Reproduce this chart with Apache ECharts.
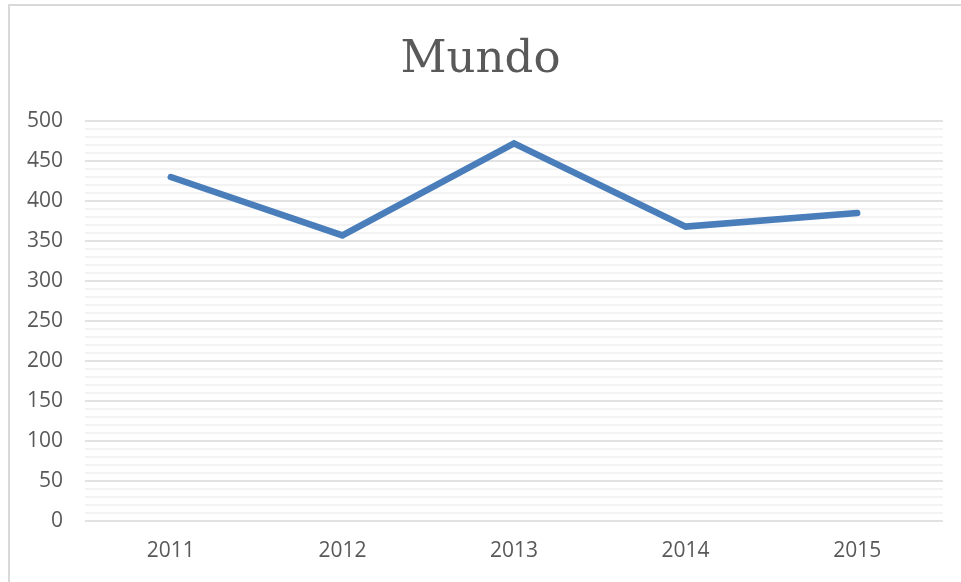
<!DOCTYPE html>
<html>
<head>
<meta charset="utf-8">
<script src="https://cdn.jsdelivr.net/npm/echarts@6/dist/echarts.min.js"></script>
<style>
  html, body { margin: 0; padding: 0; background: #fff; }
  #chart { width: 961px; height: 582px; }
</style>
</head>
<body>
<div id="chart"></div>
<script>
// data
var years = ['2011', '2012', '2013', '2014', '2015'];
var mundo = [430, 357, 472, 368, 385];

var chart = echarts.init(document.getElementById('chart'));

var option = {
    animation: false,
    backgroundColor: '#fff',
    graphic: [{
        type: 'rect',
        shape: { x: 9, y: 5, width: 1000, height: 1000 },
        style: { fill: 'none', stroke: '#d9d9d9', lineWidth: 2 },
        silent: true
    }],
    title: {
        text: 'Mundo',
        left: 'center',
        top: 33,
        textStyle: {
            fontFamily: 'DejaVu Serif',
            fontWeight: 'normal',
            fontSize: 45,
            color: '#595959'
        }
    },
    grid: {
        left: 85,
        right: 18,
        top: 121,
        bottom: 61
    },
    xAxis: {
        type: 'category',
        data: years,
        boundaryGap: true,
        axisLine: { show: false },
        axisTick: { show: false },
        axisLabel: {
            margin: 20,
            fontFamily: 'Open Sans',
            fontSize: 21,
            color: '#595959'
        }
    },
    yAxis: {
        type: 'value',
        min: 0,
        max: 500,
        interval: 50,
        axisLine: { show: false },
        axisTick: { show: false },
        axisLabel: {
            margin: 22,
            fontFamily: 'Open Sans',
            fontSize: 21,
            color: '#595959'
        },
        splitLine: { lineStyle: { color: '#d9d9d9', width: 1.5 } },
        minorTick: { show: false, splitNumber: 5 },
        minorSplitLine: { show: true, lineStyle: { color: '#efefef', width: 1.5 } }
    },
    series: [{
        name: 'Mundo',
        type: 'line',
        data: mundo,
        showSymbol: false,
        lineStyle: {
            color: '#4a7ebb',
            width: 6.5,
            cap: 'round',
            join: 'miter'
        }
    }]
};

chart.setOption(option);
</script>
</body>
</html>
